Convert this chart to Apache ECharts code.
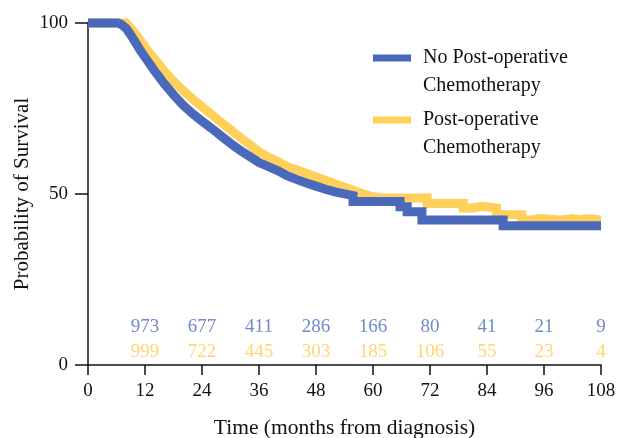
<!DOCTYPE html>
<html>
<head>
<meta charset="utf-8">
<script src="https://cdn.jsdelivr.net/npm/echarts@6/dist/echarts.min.js"></script>
<style>
html,body{margin:0;padding:0;background:#fff;}
#chart{width:618px;height:438px;}
</style>
</head>
<body>
<div id="chart"></div>
<script>
// ---- data ----
const seriesNames = ['No Post-operative\nChemotherapy', 'Post-operative\nChemotherapy'];
const xTicks = [0, 12, 24, 36, 48, 60, 72, 84, 96, 108];
const yTicks = [0, 50, 100];

// Kaplan-Meier curve: no post-operative chemotherapy [month, survival %]
const noChemo = [
  [0,100],[6.3,100],[7,99.6],[8,98.5],[9,96.5],[10,94.3],[11,92],[12,90],[13,88],[14,86],
  [15,84.2],[16,82.3],[17,80.7],[18,79],[20,76],[22,73.5],[24,71.3],[26,69.2],[28,67],
  [30,64.8],[32,62.8],[34,61],[36,59.2],[38,58],[40,56.8],[42,55.3],[44,54.2],[46,53.2],
  [48,52.3],[50,51.4],[52,50.6],[53,50.3],[55.8,49.5],[55.8,47.8],[65.7,47.8],[65.7,46.3],
  [67.2,46.3],[67.2,44.8],[70.3,44.8],[70.3,42.4],[87.4,42.4],[87.4,40.7],[108,40.7]
];
// Kaplan-Meier curve: post-operative chemotherapy [month, survival %]
const postChemo = [
  [0,100],[8,100],[9,98.5],[10,96.8],[11,95],[12,93],[13,91.2],[14,89.5],[16,86],[18,83],
  [20,80.3],[22,77.8],[24,75.5],[26,73.3],[28,71],[30,68.8],[32,66.6],[34,64.5],[36,62.3],
  [38,60.8],[40,59.5],[42,58],[44,57],[46,56],[48,55],[50,54],[52,53],[54,52],[56,51],
  [58,50],[60,49.2],[62,48.8],[71.4,48.8],[71.4,47.2],[79,47.2],[79,45.9],[81,45.9],[81,46.4],
  [83,46.4],[83,45.9],[86,45.9],[86,43.9],[91.3,43.9],[91.3,42.4],[93.5,42.4],[93.5,42.8],
  [95,42.8],[95,42.4],[99.5,42.4],[99.5,42.8],[102,42.8],[102,42.4],[103.5,42.4],[103.5,42.8],
  [105,42.8],[105,42.4],[108,42.4]
];
// numbers at risk
const riskTimes = [12, 24, 36, 48, 60, 72, 84, 96, 108];
const riskNoChemo = [973, 677, 411, 286, 166, 80, 41, 21, 9];
const riskPostChemo = [999, 722, 445, 303, 185, 106, 55, 23, 4];

// ---- styling ----
const BLUE = '#4A69BA';
const YELLOW = '#FFD05A';
const BLUE_TXT = '#4D6BBE';
const YELLOW_TXT = '#FFCB50';
const FONT = '"Liberation Serif", "Times New Roman", serif';
const ROW_NO = 11.1, ROW_POST = 3.8;

function riskSeries(counts, rowY, color) {
  return {
    type: 'scatter',
    silent: true,
    symbolSize: 0,
    data: riskTimes.map((t, i) => [t, rowY, counts[i]]),
    label: {
      show: true, position: 'inside',
      formatter: p => String(p.value[2]),
      color: color, fontFamily: FONT, fontSize: 19
    },
    z: 5
  };
}

const chart = echarts.init(document.getElementById('chart'), null, {renderer: 'canvas'});
const legendText = {fontFamily: FONT, fontSize: 20, color: '#111', lineHeight: 28, padding: [0, 0, 0, 7]};
const legendBase = {left: 373, padding: 0, itemWidth: 38, itemHeight: 7, icon: 'rect',
  textStyle: legendText, selectedMode: false, formatter: n => '\n' + n};
chart.setOption({
  animation: false,
  backgroundColor: '#fff',
  grid: {left: 88, right: 17, top: 23, bottom: 73, containLabel: false, outerBoundsMode: 'none'},
  legend: [
    Object.assign({data: [seriesNames[0]], top: 16}, legendBase),
    Object.assign({data: [seriesNames[1]], top: 78}, legendBase)
  ],
  xAxis: {
    type: 'value', min: xTicks[0], max: xTicks[xTicks.length - 1], interval: 12,
    name: 'Time (months from diagnosis)', nameLocation: 'middle', nameGap: 52,
    nameMoveOverlap: false,
    nameTextStyle: {fontFamily: FONT, fontSize: 21.5, color: '#111'},
    axisLine: {lineStyle: {color: '#111', width: 1.5}},
    axisTick: {show: true, length: 10, lineStyle: {color: '#111', width: 1.5}},
    axisLabel: {fontFamily: FONT, fontSize: 19, color: '#111', margin: 17},
    splitLine: {show: false}
  },
  yAxis: {
    type: 'value', min: yTicks[0], max: yTicks[yTicks.length - 1], interval: 50,
    name: 'Probability of Survival', nameLocation: 'middle', nameGap: 55,
    nameMoveOverlap: false,
    nameTextStyle: {fontFamily: FONT, fontSize: 21, color: '#111'},
    axisLine: {show: true, lineStyle: {color: '#111', width: 1.5}},
    axisTick: {show: true, length: 13, lineStyle: {color: '#111', width: 1.5}},
    axisLabel: {fontFamily: FONT, fontSize: 19, color: '#111', margin: 20},
    splitLine: {show: false}
  },
  series: [
    {name: seriesNames[1], type: 'line', data: postChemo, showSymbol: false, color: YELLOW,
     lineStyle: {width: 9, color: YELLOW, join: 'miter'}, z: 2, clip: false},
    {name: seriesNames[0], type: 'line', data: noChemo, showSymbol: false, color: BLUE,
     lineStyle: {width: 9, color: BLUE, join: 'miter'}, z: 3, clip: false},
    riskSeries(riskNoChemo, ROW_NO, BLUE_TXT),
    riskSeries(riskPostChemo, ROW_POST, YELLOW_TXT)
  ]
});
</script>
</body>
</html>
